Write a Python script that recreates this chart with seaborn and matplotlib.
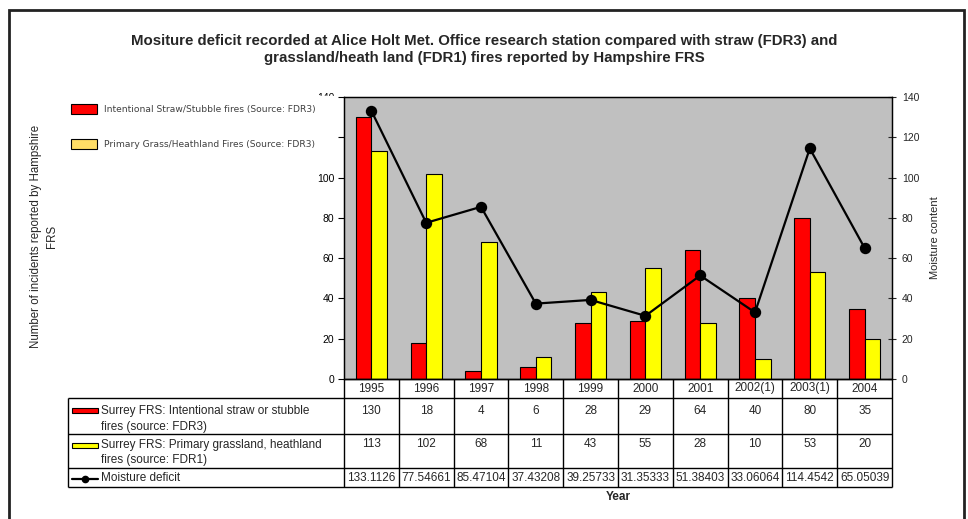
import matplotlib
matplotlib.use("Agg")
import matplotlib.pyplot as plt
from matplotlib.patches import Patch, Rectangle
from matplotlib.lines import Line2D
import numpy as np
import pandas as pd
import seaborn as sns

YEARS = ["1995", "1996", "1997", "1998", "1999", "2000", "2001", "2002(1)", "2003(1)", "2004"]
STRAW = [130, 18, 4, 6, 28, 29, 64, 40, 80, 35]
GRASS = [113, 102, 68, 11, 43, 55, 28, 10, 53, 20]
MOISTURE = [133.1126, 77.54661, 85.47104, 37.43208, 39.25733,
            31.35333, 51.38403, 33.06064, 114.4542, 65.05039]
Y_TICKS = [0, 20, 40, 60, 80, 100, 120, 140]
# the 120 label on the left axis sits under the legend box in the original
LEFT_TICK_LABELS = ["0", "20", "40", "60", "80", "100", "", "140"]

TITLE = ("Mositure deficit recorded at Alice Holt Met. Office research station compared with straw (FDR3) and\n"
         "grassland/heath land (FDR1) fires reported by Hampshire FRS")
LEGEND_LABELS = ["Intentional Straw/Stubble fires (Source: FDR3)    ",
                 "Primary Grass/Heathland Fires (Source: FDR3)    "]
ROW_LABELS = ["Surrey FRS: Intentional straw or stubble\nfires (source: FDR3)",
              "Surrey FRS: Primary grassland, heathland\nfires (source: FDR1)",
              "Moisture deficit"]

RED = "#ff0000"
YELLOW = "#ffff00"
LEGEND_YELLOW = "#ffdd66"
PLOT_BG = "#c0c0c0"

W, H = 968, 519

sns.set_style("ticks")
plt.rcParams["font.family"] = ["Liberation Sans", "DejaVu Sans"]


def fx(px):
    return px / W


def fy(py):
    return 1 - py / H


df = pd.DataFrame({
    "year": YEARS * 2,
    "count": STRAW + GRASS,
    "series": ["straw"] * len(YEARS) + ["grass"] * len(YEARS),
})
mdf = pd.DataFrame({"year": YEARS, "moisture": MOISTURE})

fig = plt.figure(figsize=(W / 100, H / 100), dpi=100)

# main plot area (pixels: x 344-892, y 97-379)
ax = fig.add_axes([fx(344), fy(379), fx(892 - 344), (379 - 97) / H])
ax.set_facecolor(PLOT_BG)
sns.barplot(data=df, x="year", y="count", hue="series", palette=[RED, YELLOW],
            width=0.57, edgecolor="black", linewidth=0.8, saturation=1,
            legend=False, ax=ax)
ax.set_ylim(0, 140)
ax.set_xlim(-0.5, len(YEARS) - 0.5)
ax.set_yticks(Y_TICKS, LEFT_TICK_LABELS)
ax.set_xlabel("")
ax.set_ylabel("")
ax.tick_params(axis="x", length=0, labelbottom=False)
ax.tick_params(axis="y", direction="out", length=4, width=0.8, labelsize=7.5, colors="black", pad=3)
for s in ax.spines.values():
    s.set_visible(True)
    s.set_color("black")
    s.set_linewidth(0.9)

ax2 = ax.twinx()
sns.pointplot(data=mdf, x="year", y="moisture", color="black", markers="o",
              markersize=7, linewidth=1.6, errorbar=None, ax=ax2)
ax2.set_ylim(0, 140)
ax2.set_xlim(-0.5, len(YEARS) - 0.5)
ax2.set_yticks(Y_TICKS)
ax2.set_ylabel("")
ax2.set_xlabel("")
ax2.tick_params(axis="y", direction="inout", length=6, width=0.8, labelsize=7.5, pad=4)
ax2.tick_params(axis="x", length=0, labelbottom=False)
for s in ax2.spines.values():
    s.set_visible(True)
    s.set_color("black")
    s.set_linewidth(0.9)

# data table under the chart
col_px = (892 - 344) / len(YEARS)
label_w = (344 - 68) / col_px
x0 = -0.5 - label_w
x1 = len(YEARS) - 0.5
tax = fig.add_axes([fx(68), fy(487), fx(892 - 68), (487 - 379) / H])
tax.set_xlim(x0, x1)
tax.set_ylim(108, 0)
tax.axis("off")
rows = [0, 19, 55, 89, 108]
lw = 1.0
tax.hlines(rows[1:], x0, x1, color="black", lw=lw, clip_on=False)
tax.hlines(rows[0], -0.5, x1, color="black", lw=lw, clip_on=False)
tax.vlines([x0], rows[1], rows[-1], color="black", lw=lw, clip_on=False)
tax.vlines(np.arange(len(YEARS) + 1) - 0.5, rows[0], rows[-1], color="black", lw=lw, clip_on=False)

fs = 8.5
for i, yr in enumerate(YEARS):
    tax.text(i, 9.5, yr, ha="center", va="center", fontsize=fs)
    tax.text(i, 32, str(STRAW[i]), ha="center", va="center", fontsize=fs)
    tax.text(i, 65, str(GRASS[i]), ha="center", va="center", fontsize=fs)
    tax.text(i, 99, f"{MOISTURE[i]:.7g}", ha="center", va="center", fontsize=fs)

tx = x0 + 33 / col_px
tax.text(tx, 40, ROW_LABELS[0], ha="left", va="center", fontsize=fs, linespacing=1.35)
tax.text(tx, 73.5, ROW_LABELS[1], ha="left", va="center", fontsize=fs, linespacing=1.35)
tax.text(tx, 99, ROW_LABELS[2], ha="left", va="center", fontsize=fs)

sw0 = x0 + 4 / col_px
sw_w = 26 / col_px
tax.add_patch(Rectangle((sw0, 29), sw_w, 5, facecolor=RED, edgecolor="black", lw=0.8))
tax.add_patch(Rectangle((sw0, 64), sw_w, 5, facecolor=YELLOW, edgecolor="black", lw=0.8))
tax.add_line(Line2D([sw0, sw0 + sw_w], [99.5, 99.5], color="black", lw=1.6))
tax.plot([sw0 + sw_w / 2], [99.5], marker="o", color="black", markersize=4.5)

# legend at top left
handles = [Patch(facecolor=RED, edgecolor="black", lw=0.8),
           Patch(facecolor=LEGEND_YELLOW, edgecolor="black", lw=0.8)]
fig.legend(handles, LEGEND_LABELS, loc="upper left", bbox_to_anchor=(fx(63), fy(96)),
           prop={"family": "DejaVu Sans", "size": 6.6}, labelcolor="#404040",
           handlelength=2.85, handleheight=1.3, labelspacing=2.65, handletextpad=0.7,
           frameon=True, facecolor="white", edgecolor="white", framealpha=1,
           fancybox=False, borderpad=0.9, borderaxespad=0)

fig.text(fx(484), fy(49.5), TITLE, ha="center", va="center", fontsize=10.8,
         fontweight="bold", linespacing=1.25)
fig.text(fx(44), fy(236), "Number of incidents reported by Hampshire\nFRS", rotation=90,
         ha="center", va="center", fontsize=8.3, multialignment="center", linespacing=1.4)
fig.text(fx(935), fy(238), "Moisture content", rotation=90, ha="center", va="center", fontsize=8)
fig.text(fx(618), fy(497), "Year", ha="center", va="center", fontsize=8.5, fontweight="bold")

fig.add_artist(Rectangle((fx(9), -0.05), fx(964 - 9), fy(9.5) + 0.05, transform=fig.transFigure,
                         fill=False, edgecolor="#222222", lw=2))

fig.savefig("out.png", dpi=100)
